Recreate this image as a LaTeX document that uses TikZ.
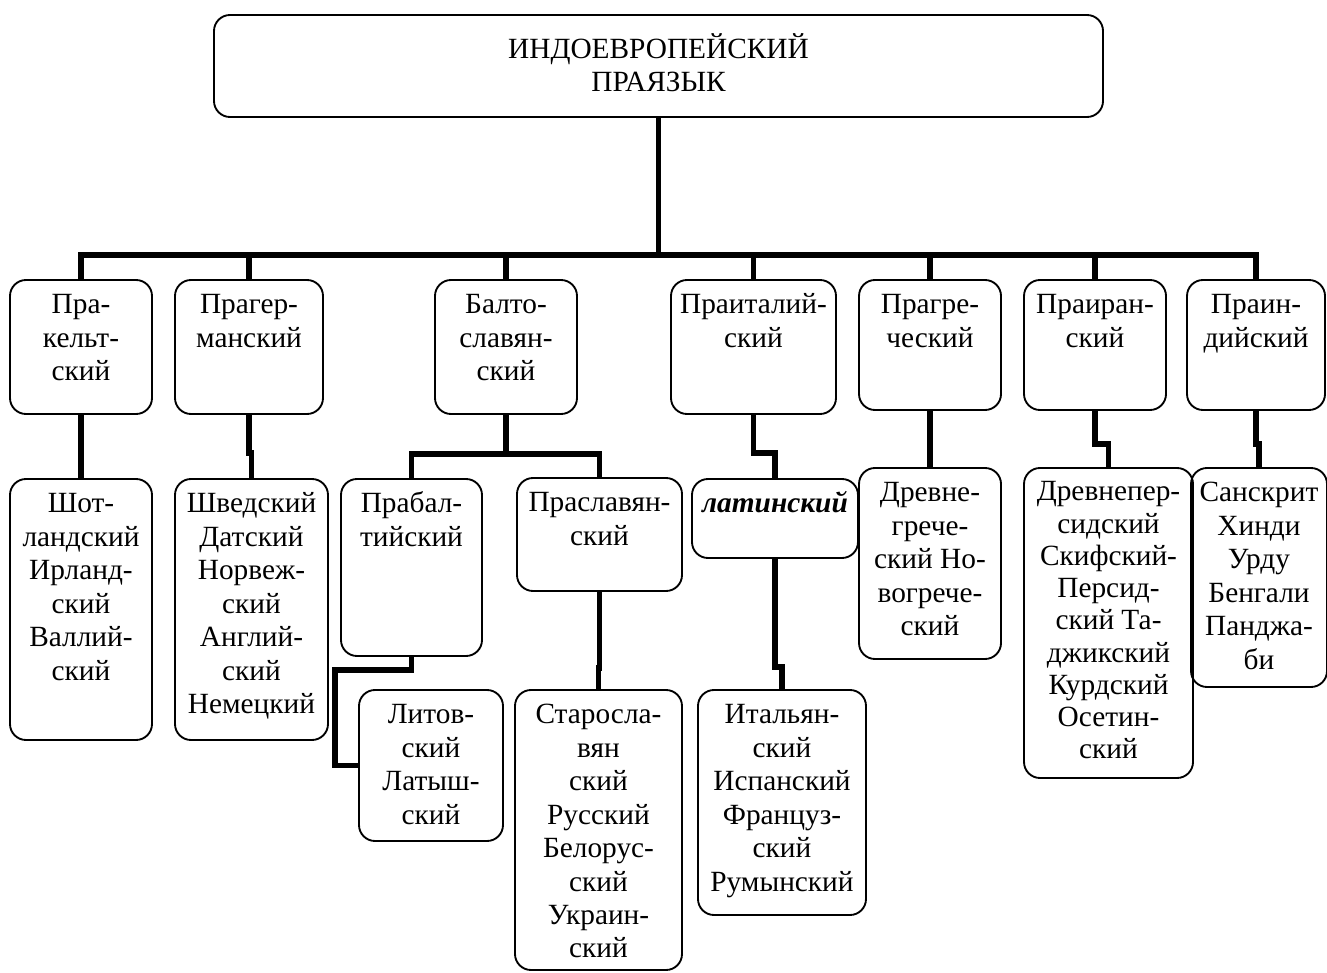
\documentclass[tikz,border=0pt]{standalone}
\usepackage{fontspec}
\setmainfont{Liberation Serif}
\usetikzlibrary{calc}

\tikzset{
  langbox/.style={draw, line width=1.4pt, rounded corners=12pt, inner sep=0pt, outer sep=0pt},
  langtext/.style={align=center, inner sep=0pt, font=\fontsize{22pt}{25.1pt}\selectfont},
  conn/.style={line width=3.8pt},
  mainbar/.style={line width=4.6pt, line cap=rect},
}

% #1 extra text style, #2 name, #3..#6 corners (x1,y1,x2,y2), #7 text
\newcommand\langbox[7][]{%
  \node[langbox, minimum width={(#5-#3)*0.75pt}, minimum height={(#6-#4)*0.75pt},
        anchor=north west] (#2) at (#3,#4) {};
  \node[langtext, anchor=north, #1] (#2-text) at ([yshift=-7.5pt]#2.north) {\strut#7};
}

\begin{document}
\begin{tikzpicture}[x=0.75pt, y=-0.75pt]
\useasboundingbox (0,0) rectangle (1327,973);

% root
\langbox[yshift=-6pt]{root}{214}{15}{1103}{117}{ИНДОЕВРОПЕЙСКИЙ\\ПРАЯЗЫК}

% proto-languages
\langbox{celt}{10}{280}{152}{414}{Пра-\\кельт-\\ский}
\langbox{germ}{175}{280}{323}{414}{Прагер-\\манский}
\langbox{baltsl}{435}{280}{577}{414}{Балто-\\славян-\\ский}
\langbox{ital}{671}{280}{836}{414}{Праиталий-\\ский}
\langbox{greek}{859}{280}{1001}{410}{Прагре-\\ческий}
\langbox{iran}{1024}{280}{1166}{410}{Праиран-\\ский}
\langbox{ind}{1187}{280}{1325}{410}{Праин-\\дийский}

% intermediate
\langbox{balt}{341}{479}{482}{656}{Прабал-\\тийский}
\langbox{slav}{517}{478}{682}{591}{Праславян-\\ский}
\langbox{latin}{692}{479}{858}{558}{\textbf{\textit{латинский}}}

% modern languages
\langbox{celtm}{10}{479}{152}{740}{Шот-\\ландский\\Ирланд-\\ский\\Валлий-\\ский}
\langbox{germm}{175}{479}{328}{740}{Шведский\\Датский\\Норвеж-\\ский\\Англий-\\ский\\Немецкий}
\langbox{baltm}{359}{690}{503}{841}{Литов-\\ский\\Латыш-\\ский}
\langbox{slavm}{515}{690}{682}{970}{Старосла-\\вян\\ский\\Русский\\Белорус-\\ский\\Украин-\\ский}
\langbox{italm}{698}{690}{866}{915}{Итальян-\\ский\\Испанский\\Француз-\\ский\\Румынский}
\langbox{greekm}{859}{468}{1001}{659}{Древне-\\грече-\\ский Но-\\вогрече-\\ский}
\langbox[font=\fontsize{22pt}{24.2pt}\selectfont]{iranm}{1024}{468}{1193}{778}{Древнепер-\\сидский\\Скифский-\\Персид-\\ский Та-\\джикский\\Курдский\\Осетин-\\ский}
\langbox{indm}{1191}{468}{1327}{687}{Санскрит\\Хинди\\Урду\\Бенгали\\Панджа-\\би}

% trunk and main bar
\coordinate (hub) at (658.5,255);
\draw[conn, line width=3.2pt] (root.south) -- (hub);
\draw[mainbar] (celt.north |- hub) -- (ind.north |- hub);
\foreach \b in {celt,germ,baltsl,ital,greek,iran,ind}
  \draw[conn] (\b.north |- hub) -- (\b.north);

% branches
\draw[conn] (celt.south) -- (celtm.north);
\draw[conn] (germ.south) -- ++(0,39) -| (germm.north);
\draw[conn] (baltsl.south) -- ++(0,40) coordinate (bsfork);
\draw[conn] (balt.north) |- (bsfork) -| (slav.north);
\coordinate (baltturn) at (335,670);
\draw[conn] (balt.south) |- (baltturn) |- (baltm.west);
\draw[conn] (slav.south) -- ++(0,77) -| (slavm.north);
\draw[conn] (ital.south) -- ++(0,39) -| (latin.north);
\draw[conn] (latin.south) -- ++(0,109) -| (italm.north);
\draw[conn] (greek.south) -- (greekm.north);
\draw[conn] (iran.south) -- ++(0,34) -| (iranm.north);
\draw[conn] (ind.south) -- ++(0,34) -| (indm.north);
\end{tikzpicture}
\end{document}
